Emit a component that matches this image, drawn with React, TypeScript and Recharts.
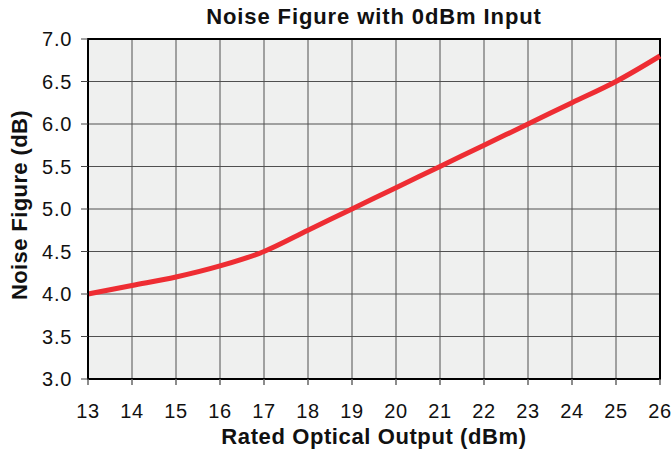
import {
  LineChart,
  Line,
  XAxis,
  YAxis,
  CartesianGrid,
  ReferenceArea,
  Label
} from 'recharts';

const outputs = [13, 14, 15, 16, 17, 18, 19, 20, 21, 22, 23, 24, 25, 26];
const noiseFigure = [4.0, 4.1, 4.2, 4.33, 4.5, 4.75, 5.0, 5.25, 5.5, 5.75, 6.0, 6.25, 6.5, 6.8];
const yTicks = [3.0, 3.5, 4.0, 4.5, 5.0, 5.5, 6.0, 6.5, 7.0];

const data = outputs.map((x, i) => ({ x, nf: noiseFigure[i] }));

const font = '"Liberation Sans", Arial, sans-serif';

export default function App() {
  return (
    <div style={{ position: 'absolute', left: 0, top: 0, width: 671, height: 453, background: '#fff', fontFamily: font }}>
      <div
        style={{
          position: 'absolute',
          top: 4,
          left: 88,
          width: 572,
          textAlign: 'center',
          fontSize: 22,
          letterSpacing: 0.9,
          fontWeight: 'bold',
          color: '#111'
        }}
      >
        Noise Figure with 0dBm Input
      </div>
      <LineChart width={671} height={453} data={data} margin={{ top: 39, right: 11, bottom: 5, left: 0 }}>
        <CartesianGrid stroke="#505050" strokeWidth={1} fill="#eff0ef" />
        <XAxis
          dataKey="x"
          type="number"
          domain={[13, 26]}
          ticks={outputs}
          interval={0}
          height={69}
          stroke="#000"
          tickSize={6}
          tickMargin={19}
          tick={{ fill: '#111', fontSize: 20, fontFamily: font, letterSpacing: 0.7 }}
          axisLine={{ stroke: '#000', strokeWidth: 2 }}
          tickLine={{ stroke: '#666', strokeWidth: 1.5 }}
        >
          <Label
            value="Rated Optical Output (dBm)"
            position="insideBottom"
            offset={4}
            style={{ fill: '#111', fontSize: 22, fontWeight: 'bold', fontFamily: font, letterSpacing: 0.6 }}
          />
        </XAxis>
        <YAxis
          type="number"
          domain={[3, 7]}
          ticks={yTicks}
          interval={0}
          width={88}
          stroke="#000"
          tickSize={7}
          tickMargin={9}
          tickFormatter={(v: number) => v.toFixed(1)}
          tick={{ fill: '#111', fontSize: 20, fontFamily: font, letterSpacing: 0.7 }}
          axisLine={{ stroke: '#000', strokeWidth: 2 }}
          tickLine={{ stroke: '#444', strokeWidth: 1 }}
        >
          <Label
            value="Noise Figure (dB)"
            angle={-90}
            position="insideLeft"
            offset={19}
            dy={-4}
            style={{ textAnchor: 'middle', fill: '#111', fontSize: 22, fontWeight: 'bold', fontFamily: font, letterSpacing: 0.4 }}
          />
        </YAxis>
        <ReferenceArea x1={13} x2={26} y1={3} y2={7} fill="none" stroke="#000" strokeWidth={2} />
        <Line
          type="monotone"
          dataKey="nf"
          stroke="#ee2d33"
          strokeWidth={5}
          dot={false}
          isAnimationActive={false}
        />
      </LineChart>
    </div>
  );
}
